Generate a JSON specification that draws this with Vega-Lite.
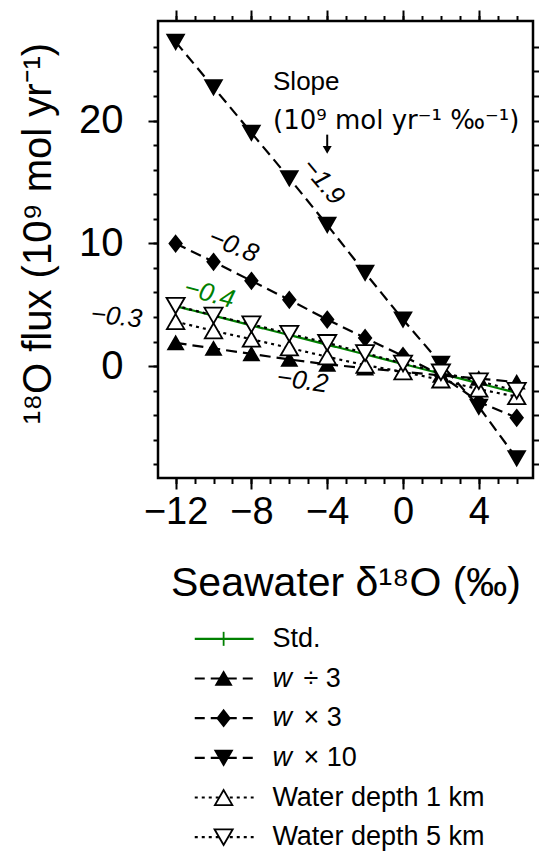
{
  "$schema": "https://vega.github.io/schema/vega-lite/v6.json",
  "padding": {"left": 16, "top": 7, "right": 0, "bottom": 0},
  "background": "white",
  "spacing": 14,
  "config": {
    "view": {"stroke": null},
    "font": "Liberation Sans",
    "axis": {"domain": false, "grid": false, "tickColor": "black", "tickWidth": 2, "labelColor": "black", "titleColor": "black", "labelFont": "Liberation Sans", "titleFont": "Liberation Sans", "titleFontWeight": "normal", "labelFontSize": 38, "titleFontSize": 40}
  },
  "resolve": {"scale": {"x": "independent", "y": "independent", "color": "independent", "shape": "independent", "fill": "independent", "stroke": "independent", "strokeDash": "independent", "size": "independent"}},
  "datasets": {
    "main": [
      {"s": "Std.", "x": -12, "y": 4.89}, {"s": "Std.", "x": -10, "y": 4.11}, {"s": "Std.", "x": -8, "y": 3.32}, {"s": "Std.", "x": -6, "y": 2.54}, {"s": "Std.", "x": -4, "y": 1.75}, {"s": "Std.", "x": -2, "y": 0.97}, {"s": "Std.", "x": 0, "y": 0.18}, {"s": "Std.", "x": 2, "y": -0.6}, {"s": "Std.", "x": 4, "y": -1.39}, {"s": "Std.", "x": 6, "y": -2.17},
      {"s": "w ÷ 3", "x": -12, "y": 1.9}, {"s": "w ÷ 3", "x": -10, "y": 1.45}, {"s": "w ÷ 3", "x": -8, "y": 1.0}, {"s": "w ÷ 3", "x": -6, "y": 0.55}, {"s": "w ÷ 3", "x": -4, "y": 0.15}, {"s": "w ÷ 3", "x": -2, "y": -0.15}, {"s": "w ÷ 3", "x": 0, "y": -0.45}, {"s": "w ÷ 3", "x": 2, "y": -0.75}, {"s": "w ÷ 3", "x": 4, "y": -1.0}, {"s": "w ÷ 3", "x": 6, "y": -1.3},
      {"s": "w × 3", "x": -12, "y": 9.98}, {"s": "w × 3", "x": -10, "y": 8.5}, {"s": "w × 3", "x": -8, "y": 6.95}, {"s": "w × 3", "x": -6, "y": 5.4}, {"s": "w × 3", "x": -4, "y": 3.8}, {"s": "w × 3", "x": -2, "y": 2.3}, {"s": "w × 3", "x": 0, "y": 0.84}, {"s": "w × 3", "x": 2, "y": -0.75}, {"s": "w × 3", "x": 4, "y": -2.9}, {"s": "w × 3", "x": 6, "y": -4.2},
      {"s": "w × 10", "x": -12, "y": 26.4}, {"s": "w × 10", "x": -10, "y": 22.7}, {"s": "w × 10", "x": -8, "y": 19.0}, {"s": "w × 10", "x": -6, "y": 15.3}, {"s": "w × 10", "x": -4, "y": 11.5}, {"s": "w × 10", "x": -2, "y": 7.6}, {"s": "w × 10", "x": 0, "y": 3.8}, {"s": "w × 10", "x": 2, "y": 0.2}, {"s": "w × 10", "x": 4, "y": -3.3}, {"s": "w × 10", "x": 6, "y": -7.5},
      {"s": "Water depth 1 km", "x": -12, "y": 3.63}, {"s": "Water depth 1 km", "x": -10, "y": 2.88}, {"s": "Water depth 1 km", "x": -8, "y": 2.2}, {"s": "Water depth 1 km", "x": -6, "y": 1.49}, {"s": "Water depth 1 km", "x": -4, "y": 0.77}, {"s": "Water depth 1 km", "x": -2, "y": 0.08}, {"s": "Water depth 1 km", "x": 0, "y": -0.45}, {"s": "Water depth 1 km", "x": 2, "y": -1.12}, {"s": "Water depth 1 km", "x": 4, "y": -1.87}, {"s": "Water depth 1 km", "x": 6, "y": -2.48},
      {"s": "Water depth 5 km", "x": -12, "y": 4.93}, {"s": "Water depth 5 km", "x": -10, "y": 4.13}, {"s": "Water depth 5 km", "x": -8, "y": 3.41}, {"s": "Water depth 5 km", "x": -6, "y": 2.65}, {"s": "Water depth 5 km", "x": -4, "y": 1.9}, {"s": "Water depth 5 km", "x": -2, "y": 1.07}, {"s": "Water depth 5 km", "x": 0, "y": 0.22}, {"s": "Water depth 5 km", "x": 2, "y": -0.5}, {"s": "Water depth 5 km", "x": 4, "y": -1.22}, {"s": "Water depth 5 km", "x": 6, "y": -2.0}
    ],
    "legend": [
      {"s": "Std.", "pre": "", "rest": "Std."},
      {"s": "w ÷ 3", "pre": "w", "rest": "÷ 3"},
      {"s": "w × 3", "pre": "w", "rest": "× 3"},
      {"s": "w × 10", "pre": "w", "rest": "× 10"},
      {"s": "Water depth 1 km", "pre": "", "rest": "Water depth 1 km"},
      {"s": "Water depth 5 km", "pre": "", "rest": "Water depth 5 km"}
    ],
    "notes": [
      {"label": "Slope", "x": -6.86, "y": 23.17}
    ],
    "notes2": [
      {"label": "(10⁹ mol yr⁻¹ ‰⁻¹)", "x": -6.86, "y": 20.0}
    ],
    "arrow": [{"x": -4, "y": 18.85, "y2": 17.6}]
  },
  "vconcat": [
    {
      "width": 375,
      "height": 457,
      "view": {"stroke": "black", "strokeWidth": 2.5},
      "resolve": {"axis": {"x": "independent", "y": "independent"}},
      "layer": [
        {
          "data": {"name": "main"},
          "mark": {"type": "line", "strokeWidth": 2.2},
          "encoding": {
            "x": {"field": "x", "type": "quantitative", "scale": {"domain": [-12.93, 6.86], "nice": false, "zero": false},
              "axis": {"orient": "bottom", "values": [-12, -8, -4, 0, 4], "tickSize": 11, "labelPadding": 4, "labelFlush": false, "labelOverlap": false, "title": "Seawater δ¹⁸O (‰)", "titleFontSize": 41, "titleY": 117, "titleBaseline": "alphabetic"}},
            "y": {"field": "y", "type": "quantitative", "scale": {"domain": [-9.1, 28.1], "nice": false, "zero": false},
              "axis": {"orient": "left", "values": [0, 10, 20], "tickSize": 10, "labelPadding": 25, "labelFontSize": 40, "labelFlush": false, "labelOverlap": false, "title": "¹⁸O flux (10⁹ mol yr⁻¹)", "titleX": -100, "titleY": 212}},
            "color": {"field": "s", "type": "nominal", "scale": {"domain": ["Std.", "w ÷ 3", "w × 3", "w × 10", "Water depth 1 km", "Water depth 5 km"], "range": ["#008000", "black", "black", "black", "black", "black"]}, "legend": null},
            "strokeDash": {"field": "s", "type": "nominal", "scale": {"domain": ["Std.", "w ÷ 3", "w × 3", "w × 10", "Water depth 1 km", "Water depth 5 km"], "range": [[1, 0], [11, 6], [11, 6], [11, 6], [3, 4], [3, 4]]}, "legend": null}
          }
        },
        {
          "data": {"name": "main"},
          "mark": {"type": "point", "filled": true, "opacity": 1, "strokeWidth": 1.8},
          "encoding": {
            "x": {"field": "x", "type": "quantitative", "scale": {"domain": [-12.93, 6.86], "nice": false, "zero": false},
              "axis": {"orient": "bottom", "values": [-12, -11, -10, -9, -8, -7, -6, -5, -4, -3, -2, -1, 0, 1, 2, 3, 4, 5, 6], "tickSize": 5.5, "labels": false, "title": null}},
            "y": {"field": "y", "type": "quantitative", "scale": {"domain": [-9.1, 28.1], "nice": false, "zero": false},
              "axis": {"orient": "left", "values": [-8, -6, -4, -2, 0, 2, 4, 6, 8, 10, 12, 14, 16, 18, 20, 22, 24, 26], "tickSize": 5, "labels": false, "title": null}},
            "shape": {"field": "s", "type": "nominal", "scale": {"domain": ["Std.", "w ÷ 3", "w × 3", "w × 10", "Water depth 1 km", "Water depth 5 km"], "range": ["M0,-1L0,1", "triangle-up", "M0,-1L0.78,0L0,1L-0.78,0Z", "triangle-down", "triangle-up", "triangle-down"]}, "legend": null},
            "fill": {"field": "s", "type": "nominal", "scale": {"domain": ["Std.", "w ÷ 3", "w × 3", "w × 10", "Water depth 1 km", "Water depth 5 km"], "range": ["transparent", "black", "black", "black", "white", "white"]}, "legend": null},
            "stroke": {"field": "s", "type": "nominal", "scale": {"domain": ["Std.", "w ÷ 3", "w × 3", "w × 10", "Water depth 1 km", "Water depth 5 km"], "range": ["#008000", "black", "black", "black", "black", "black"]}, "legend": null},
            "size": {"field": "s", "type": "nominal", "scale": {"domain": ["Std.", "w ÷ 3", "w × 3", "w × 10", "Water depth 1 km", "Water depth 5 km"], "range": [196, 330, 484, 330, 330, 330]}, "legend": null}
          }
        },
        {
          "data": {"values": [{"label": "−1.9", "x": -4.22, "y": 15.02}]},
          "mark": {"type": "text", "font": "Liberation Sans", "fontStyle": "italic", "fontSize": 26, "angle": 50, "align": "center", "baseline": "middle", "color": "black"},
          "encoding": {
            "x": {"field": "x", "type": "quantitative", "scale": {"domain": [-12.93, 6.86], "nice": false, "zero": false},
              "axis": {"orient": "top", "values": [-12, -8, -4, 0, 4], "tickSize": 11, "labels": false, "title": null}},
            "y": {"field": "y", "type": "quantitative", "scale": {"domain": [-9.1, 28.1], "nice": false, "zero": false},
              "axis": {"orient": "right", "values": [-8, -6, -4, -2, 0, 2, 4, 6, 8, 10, 12, 14, 16, 18, 20, 22, 24, 26], "tickSize": 6, "labels": false, "title": null}},
            "text": {"field": "label"}
          }
        },
        {
          "data": {"values": [{"label": "−0.8", "x": -8.95, "y": 9.8}]},
          "mark": {"type": "text", "font": "Liberation Sans", "fontStyle": "italic", "fontSize": 26, "angle": 22, "align": "center", "baseline": "middle", "color": "black"},
          "encoding": {
            "x": {"field": "x", "type": "quantitative", "scale": {"domain": [-12.93, 6.86], "nice": false, "zero": false},
              "axis": {"orient": "top", "values": [-12, -11, -10, -9, -8, -7, -6, -5, -4, -3, -2, -1, 0, 1, 2, 3, 4, 5, 6], "tickSize": 5.5, "labels": false, "title": null}},
            "y": {"field": "y", "type": "quantitative", "scale": {"domain": [-9.1, 28.1], "nice": false, "zero": false}, "axis": null},
            "text": {"field": "label"}
          }
        },
        {
          "data": {"values": [{"label": "−0.4", "x": -10.22, "y": 5.89}]},
          "mark": {"type": "text", "font": "Liberation Sans", "fontStyle": "italic", "fontSize": 26, "angle": 15, "align": "center", "baseline": "middle", "color": "#008000"},
          "encoding": {
            "x": {"field": "x", "type": "quantitative", "axis": null},
            "y": {"field": "y", "type": "quantitative", "axis": null},
            "text": {"field": "label"}
          }
        },
        {
          "data": {"values": [{"label": "−0.3", "x": -15.13, "y": 4.02}]},
          "mark": {"type": "text", "font": "Liberation Sans", "fontStyle": "italic", "fontSize": 26, "angle": 6, "align": "center", "baseline": "middle", "color": "black"},
          "encoding": {
            "x": {"field": "x", "type": "quantitative", "axis": null},
            "y": {"field": "y", "type": "quantitative", "axis": null},
            "text": {"field": "label"}
          }
        },
        {
          "data": {"values": [{"label": "−0.2", "x": -5.31, "y": -1.2}]},
          "mark": {"type": "text", "font": "Liberation Sans", "fontStyle": "italic", "fontSize": 26, "angle": 8, "align": "center", "baseline": "middle", "color": "black"},
          "encoding": {
            "x": {"field": "x", "type": "quantitative", "axis": null},
            "y": {"field": "y", "type": "quantitative", "axis": null},
            "text": {"field": "label"}
          }
        },
        {
          "data": {"name": "notes"},
          "mark": {"type": "text", "font": "Liberation Sans", "fontSize": 26, "align": "left", "baseline": "middle", "color": "black"},
          "encoding": {
            "x": {"field": "x", "type": "quantitative", "axis": null},
            "y": {"field": "y", "type": "quantitative", "axis": null},
            "text": {"field": "label"}
          }
        },
        {
          "data": {"name": "notes2"},
          "mark": {"type": "text", "font": "DejaVu Sans", "fontSize": 26, "align": "left", "baseline": "middle", "color": "black"},
          "encoding": {
            "x": {"field": "x", "type": "quantitative", "axis": null},
            "y": {"field": "y", "type": "quantitative", "axis": null},
            "text": {"field": "label"}
          }
        },
        {
          "data": {"name": "arrow"},
          "mark": {"type": "rule", "strokeWidth": 2, "color": "black"},
          "encoding": {
            "x": {"field": "x", "type": "quantitative", "axis": null},
            "y": {"field": "y", "type": "quantitative", "axis": null},
            "y2": {"field": "y2"}
          }
        },
        {
          "data": {"name": "arrow"},
          "mark": {"type": "point", "shape": "triangle-down", "filled": true, "opacity": 1, "size": 80, "color": "black"},
          "encoding": {
            "x": {"field": "x", "type": "quantitative", "axis": null},
            "y": {"field": "y2", "type": "quantitative", "axis": null}
          }
        }
      ]
    },
    {
      "width": 375,
      "height": 238,
      "data": {"name": "legend"},
      "layer": [
        {
          "mark": {"type": "rule", "strokeWidth": 2.2},
          "encoding": {
            "x": {"datum": 9.8, "type": "quantitative", "scale": {"domain": [0, 100], "nice": false, "zero": false}, "axis": null},
            "x2": {"datum": 25.5},
            "y": {"field": "s", "type": "nominal", "scale": {"type": "point", "domain": ["Std.", "w ÷ 3", "w × 3", "w × 10", "Water depth 1 km", "Water depth 5 km"], "padding": 0.5}, "axis": null},
            "color": {"field": "s", "type": "nominal", "scale": {"domain": ["Std.", "w ÷ 3", "w × 3", "w × 10", "Water depth 1 km", "Water depth 5 km"], "range": ["#008000", "black", "black", "black", "black", "black"]}, "legend": null},
            "strokeDash": {"field": "s", "type": "nominal", "scale": {"domain": ["Std.", "w ÷ 3", "w × 3", "w × 10", "Water depth 1 km", "Water depth 5 km"], "range": [[1, 0], [10, 6], [10, 6], [10, 6], [3, 4], [3, 4]]}, "legend": null}
          }
        },
        {
          "mark": {"type": "point", "filled": true, "opacity": 1, "strokeWidth": 1.8},
          "encoding": {
            "x": {"datum": 17.5, "type": "quantitative"},
            "y": {"field": "s", "type": "nominal"},
            "shape": {"field": "s", "type": "nominal", "scale": {"domain": ["Std.", "w ÷ 3", "w × 3", "w × 10", "Water depth 1 km", "Water depth 5 km"], "range": ["M0,-1L0,1", "triangle-up", "M0,-1L0.78,0L0,1L-0.78,0Z", "triangle-down", "triangle-up", "triangle-down"]}, "legend": null},
            "fill": {"field": "s", "type": "nominal", "scale": {"domain": ["Std.", "w ÷ 3", "w × 3", "w × 10", "Water depth 1 km", "Water depth 5 km"], "range": ["transparent", "black", "black", "black", "white", "white"]}, "legend": null},
            "stroke": {"field": "s", "type": "nominal", "scale": {"domain": ["Std.", "w ÷ 3", "w × 3", "w × 10", "Water depth 1 km", "Water depth 5 km"], "range": ["#008000", "black", "black", "black", "black", "black"]}, "legend": null},
            "size": {"field": "s", "type": "nominal", "scale": {"domain": ["Std.", "w ÷ 3", "w × 3", "w × 10", "Water depth 1 km", "Water depth 5 km"], "range": [196, 330, 484, 330, 330, 330]}, "legend": null}
          }
        },
        {
          "transform": [{"filter": "datum.pre == ''"}],
          "mark": {"type": "text", "font": "Liberation Sans", "fontSize": 27, "align": "left", "baseline": "middle", "color": "black"},
          "encoding": {
            "x": {"datum": 30.5, "type": "quantitative"},
            "y": {"field": "s", "type": "nominal"},
            "text": {"field": "rest"}
          }
        },
        {
          "transform": [{"filter": "datum.pre != ''"}],
          "mark": {"type": "text", "font": "Liberation Sans", "fontSize": 27, "fontStyle": "italic", "align": "left", "baseline": "middle", "color": "black"},
          "encoding": {
            "x": {"datum": 30.5, "type": "quantitative"},
            "y": {"field": "s", "type": "nominal"},
            "text": {"field": "pre"}
          }
        },
        {
          "transform": [{"filter": "datum.pre != ''"}],
          "mark": {"type": "text", "font": "Liberation Sans", "fontSize": 27, "align": "left", "baseline": "middle", "color": "black", "dx": 31},
          "encoding": {
            "x": {"datum": 30.5, "type": "quantitative"},
            "y": {"field": "s", "type": "nominal"},
            "text": {"field": "rest"}
          }
        }
      ]
    }
  ]
}
